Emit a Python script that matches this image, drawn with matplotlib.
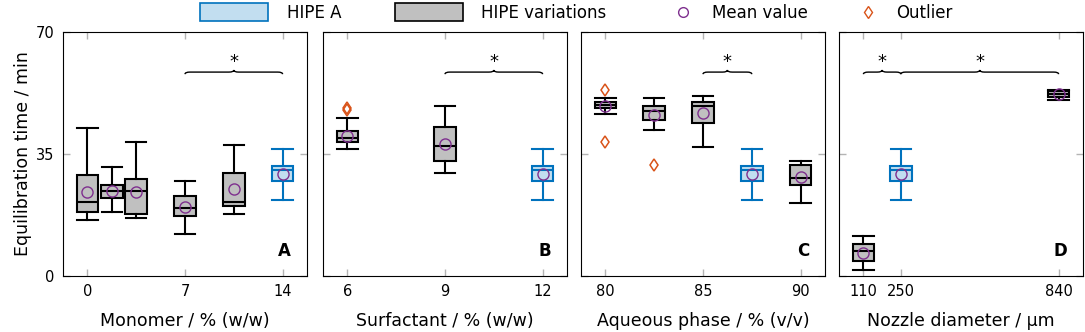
import matplotlib
matplotlib.use("Agg")
import matplotlib.pyplot as plt
from matplotlib.patches import Patch, PathPatch
from matplotlib.lines import Line2D
from matplotlib.path import Path

# HIPE A reference (same in every panel): whislo, q1, med, q3, whishi, mean
hipe_a = [21.9, 27.3, 30.3, 31.5, 36.5, 29.4]

# Panel A - monomer
mono_pos = [0, 1.75, 3.5, 7, 10.5]
mono_whislo = [16.1, 18.5, 16.6, 12.0, 17.9]
mono_q1 = [18.5, 22.5, 17.9, 17.3, 20.1]
mono_med = [21.3, 24.3, 24.3, 19.4, 21.3]
mono_q3 = [29.0, 26.0, 27.7, 23.0, 29.5]
mono_whishi = [42.5, 31.3, 38.3, 27.2, 37.6]
mono_mean = [24.0, 24.3, 24.1, 19.8, 24.9]
mono_fliers = [[], [], [], [], []]

# Panel B - surfactant
surf_pos = [6, 9]
surf_whislo = [36.5, 29.5]
surf_q1 = [38.4, 33.0]
surf_med = [39.6, 37.4]
surf_q3 = [41.5, 42.8]
surf_whishi = [45.3, 48.7]
surf_mean = [40.2, 37.8]
surf_fliers = [[47.6, 48.2], []]

# Panel C - aqueous phase
aq_pos = [80, 82.5, 85, 90]
aq_whislo = [46.4, 41.8, 37.0, 20.8]
aq_q1 = [48.2, 44.7, 44.0, 26.0]
aq_med = [49.2, 47.3, 48.9, 28.0]
aq_q3 = [49.9, 48.8, 49.9, 31.9]
aq_whishi = [51.1, 51.1, 51.6, 33.0]
aq_mean = [48.7, 46.1, 46.9, 28.4]
aq_fliers = [[53.5, 38.3], [31.8], [], []]

# Panel D - nozzle diameter
noz_pos = [110, 840]
noz_whislo = [1.6, 50.6]
noz_q1 = [4.2, 51.4]
noz_med = [7.1, 52.1]
noz_q3 = [9.2, 53.1]
noz_whishi = [11.4, 53.5]
noz_mean = [6.7, 52.1]
noz_fliers = [[], []]

panels = [
    dict(pos=mono_pos, lo=mono_whislo, q1=mono_q1, med=mono_med, q3=mono_q3, hi=mono_whishi,
         mean=mono_mean, fl=mono_fliers, ref=14, xlim=(-1.75, 15.75), ticks=[0, 7, 14],
         xlabel="Monomer / % (w/w)", letter="A", braces=[(7, 14)]),
    dict(pos=surf_pos, lo=surf_whislo, q1=surf_q1, med=surf_med, q3=surf_q3, hi=surf_whishi,
         mean=surf_mean, fl=surf_fliers, ref=12, xlim=(5.25, 12.75), ticks=[6, 9, 12],
         xlabel="Surfactant / % (w/w)", letter="B", braces=[(9, 12)]),
    dict(pos=aq_pos, lo=aq_whislo, q1=aq_q1, med=aq_med, q3=aq_q3, hi=aq_whishi,
         mean=aq_mean, fl=aq_fliers, ref=87.5, xlim=(78.75, 91.25), ticks=[80, 85, 90],
         xlabel="Aqueous phase / % (v/v)", letter="C", braces=[(85, 87.5)]),
    dict(pos=noz_pos, lo=noz_whislo, q1=noz_q1, med=noz_med, q3=noz_q3, hi=noz_whishi,
         mean=noz_mean, fl=noz_fliers, ref=250, xlim=(18.75, 931.25), ticks=[110, 250, 840],
         xlabel="Nozzle diameter / µm", letter="D", braces=[(110, 250), (250, 840)]),
]

BLUE = "#0072BD"
LIGHTBLUE = "#C2DEF0"
GREY = "#C0C0C0"
PURPLE = "#7E2F8E"
ORANGE = "#D95319"
BRACE_Y = 58.5

plt.rcParams["font.family"] = "DejaVu Sans"


def draw_brace(ax, x0, x1, y, span):
    dx = 0.02 * span
    dy = 0.6
    xm = (x0 + x1) / 2
    verts = [(x0, y - dy), (x0, y), (x0 + dx, y),
             (xm - dx, y), (xm, y), (xm, y + dy),
             (xm, y), (xm + dx, y),
             (x1 - dx, y), (x1, y), (x1, y - dy)]
    codes = [Path.MOVETO, Path.CURVE3, Path.CURVE3,
             Path.LINETO, Path.CURVE3, Path.CURVE3,
             Path.CURVE3, Path.CURVE3,
             Path.LINETO, Path.CURVE3, Path.CURVE3]
    ax.add_patch(PathPatch(Path(verts, codes), fill=False, lw=1.0, color="black"))
    ax.text(xm, y + 0.2, "*", ha="center", va="bottom", fontsize=13)


def stats_list(p):
    out = []
    for i in range(len(p["pos"])):
        out.append(dict(whislo=p["lo"][i], q1=p["q1"][i], med=p["med"][i], q3=p["q3"][i],
                        whishi=p["hi"][i], mean=p["mean"][i], fliers=p["fl"][i]))
    return out


fig = plt.figure(figsize=(10.85, 3.32), dpi=100)
lefts = [63, 323, 581, 839]
for k, p in enumerate(panels):
    ax = fig.add_axes([lefts[k] / 1085, 1 - 276 / 332, 244 / 1085, 244 / 332])
    span = p["xlim"][1] - p["xlim"][0]
    w = 0.088 * span

    mean_props = dict(marker="o", markerfacecolor="none", markeredgecolor=PURPLE,
                      markersize=8, markeredgewidth=1.0)
    flier_props = dict(marker="d", markerfacecolor="none", markeredgecolor=ORANGE,
                       markersize=6.5, markeredgewidth=1.1, linestyle="none")

    ax.bxp(stats_list(p), positions=p["pos"], widths=w, capwidths=w * 0.95,
           patch_artist=True, showmeans=True, showfliers=True,
           boxprops=dict(facecolor=GREY, edgecolor="black", lw=1.5),
           medianprops=dict(color="black", lw=1.5),
           whiskerprops=dict(color="black", lw=1.5),
           capprops=dict(color="black", lw=1.5),
           meanprops=mean_props, flierprops=flier_props, manage_ticks=False)

    ref = [dict(whislo=hipe_a[0], q1=hipe_a[1], med=hipe_a[2], q3=hipe_a[3],
                whishi=hipe_a[4], mean=hipe_a[5], fliers=[])]
    ax.bxp(ref, positions=[p["ref"]], widths=w, capwidths=w * 0.95,
           patch_artist=True, showmeans=True, showfliers=False,
           boxprops=dict(facecolor=LIGHTBLUE, edgecolor=BLUE, lw=1.5),
           medianprops=dict(color=BLUE, lw=1.5),
           whiskerprops=dict(color=BLUE, lw=1.5),
           capprops=dict(color=BLUE, lw=1.5),
           meanprops=mean_props, manage_ticks=False)

    for x0, x1 in p["braces"]:
        draw_brace(ax, x0, x1, BRACE_Y, span)

    ax.set_xlim(p["xlim"])
    ax.set_ylim(0, 70)
    ax.set_xticks(p["ticks"])
    ax.set_yticks([0, 35, 70])
    ax.tick_params(direction="in", length=5, width=1, color="#B4B4B4",
                   top=True, right=True, labelsize=10.5, pad=6)
    if k > 0:
        ax.tick_params(labelleft=False)
    else:
        ax.set_ylabel("Equilibration time / min", fontsize=12.5, labelpad=3)
    ax.set_xlabel(p["xlabel"], fontsize=12.5, labelpad=9)
    ax.text(0.935, 0.065, p["letter"], transform=ax.transAxes, ha="right", va="bottom",
            fontsize=12, fontweight="bold")

patch_handles = [Patch(facecolor=LIGHTBLUE, edgecolor=BLUE, lw=1.2),
                 Patch(facecolor=GREY, edgecolor="black", lw=1.2)]
leg1 = fig.legend(patch_handles, ["HIPE A", "HIPE variations"], ncol=2,
                  loc="center left", bbox_to_anchor=(200 / 1085, 0.962),
                  frameon=False, fontsize=12, handlelength=4.1, handleheight=1.3,
                  handletextpad=1.1, columnspacing=3.2, borderpad=0, borderaxespad=0)
marker_handles = [Line2D([], [], marker="o", ls="none", mfc="none", mec=PURPLE, ms=7),
                  Line2D([], [], marker="d", ls="none", mfc="none", mec=ORANGE, ms=6.5)]
leg2 = fig.legend(marker_handles, ["Mean value", "Outlier"], ncol=2,
                  loc="center left", bbox_to_anchor=(675 / 1085, 0.962),
                  frameon=False, fontsize=12, handlelength=1.0,
                  handletextpad=1.2, columnspacing=3.1, borderpad=0, borderaxespad=0)

fig.savefig("out.png", dpi=100)
